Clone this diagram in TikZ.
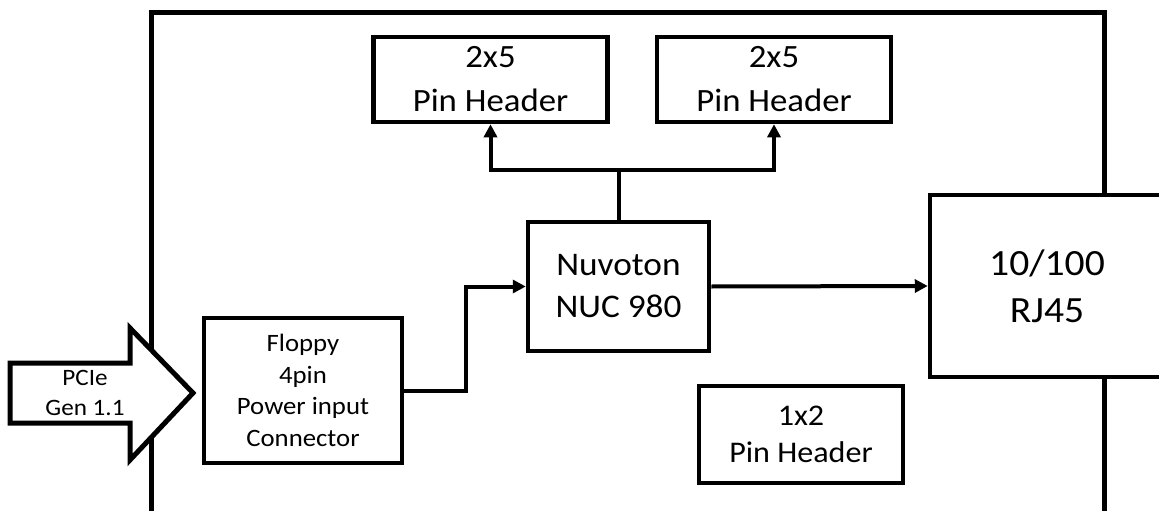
\documentclass[tikz,border=0pt]{standalone}
\usepackage{fontspec}
\setmainfont[FakeStretch=1.07]{Carlito}
\usetikzlibrary{positioning,arrows.meta,calc}

\begin{document}
\begin{tikzpicture}[x=1pt, y=-1pt, block/.style={draw, line width=4.5pt, fill=white, align=center, inner sep=0pt}, rel/.style={-{Triangle[length=13pt,width=13pt]}, line width=4pt}]
\useasboundingbox (0,0) rectangle (1159,511);
\clip (0,0) rectangle (1159,511);
% board outline, open at the bottom
\draw[line width=5pt] (151,520) -- (151,13) -- (1104,13) -- (1104,520);
% PCIe edge arrow
\draw[line width=5pt, fill=white] (10,363) -- (130,363) -- (130,328) -- (193,393) -- (130,460) -- (130,423) -- (10,423) -- cycle;
\node[align=center, font=\fontsize{23.5}{30}\selectfont] (pcie) at (85,393) {PCIe\\Gen 1.1};
\node[block, minimum width=234, minimum height=85, font=\fontsize{32.5}{44}\selectfont] (hdrA) at (490.5,79.5) {2x5\\Pin Header};
\node[block, minimum width=234, minimum height=85, font=\fontsize{32.5}{44}\selectfont] (hdrB) at (774,79.5) {2x5\\Pin Header};
\node[block, minimum width=181, minimum height=129, font=\fontsize{33}{42}\selectfont] (nuc) at (618.5,286.5) {Nuvoton\\NUC 980};
\node[block, minimum width=234, minimum height=182, font=\fontsize{37}{47}\selectfont] (rj) at (1047,286) {10/100\\RJ45};
\node[block, minimum width=198, minimum height=145, font=\fontsize{25}{31.5}\selectfont] (floppy) at (303,390.5) {Floppy\\4pin\\Power input\\Connector};
\node[block, minimum width=204, minimum height=97, font=\fontsize{30}{37}\selectfont] (pin12) at (801,434.5) {1x2\\Pin Header};
\draw[line width=4pt] (nuc.north) -- ++(0,-50) coordinate (fork);
\draw[rel] (fork) -| (hdrA.south);
\draw[rel] (fork) -| (hdrB.south);
\draw[rel] (floppy.east) -- ++(62,0) |- (nuc.west);
\draw[rel] (nuc.east) -- (rj.west);
\end{tikzpicture}
\end{document}
